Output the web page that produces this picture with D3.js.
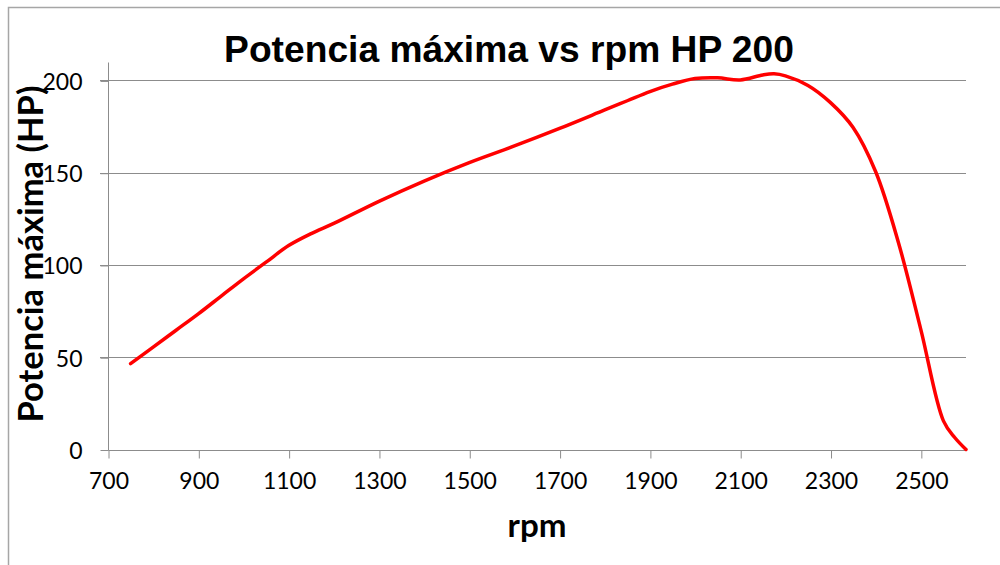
<!DOCTYPE html>
<html>
<head>
<meta charset="utf-8">
<script src="https://cdn.jsdelivr.net/npm/d3@7"></script>
<style>
  html, body { margin: 0; padding: 0; background: #fff; }
  svg { display: block; }
</style>
</head>
<body>
<script>
// ---- data ----
const rpm = [750, 800, 850, 900, 950, 1000, 1050, 1100, 1150, 1200, 1300, 1400, 1500, 1600, 1700, 1800, 1850, 1900, 1950, 2000, 2050, 2100, 2150, 2175, 2200, 2250, 2300, 2350, 2400, 2450, 2500, 2550, 2575, 2600];
const hp  = [46.5, 55.5, 64.5, 73.5, 83, 92.5, 101.5, 110.5, 117, 122.5, 134.5, 145.5, 155.5, 164.5, 174, 184, 189, 194, 198, 201, 201.4, 200.3, 203, 203.6, 202.5, 197.3, 188, 174.5, 150.5, 112.5, 65, 15.5, 6.5, 0];
const xTicks = [700, 900, 1100, 1300, 1500, 1700, 1900, 2100, 2300, 2500];
const yTicks = [0, 50, 100, 150, 200];
const titleText = "Potencia máxima vs rpm HP 200";
const xTitle = "rpm";
const yTitle = "Potencia máxima (HP)";

const W = 1000, H = 565;
const svg = d3.select("body").append("svg").attr("width", W).attr("height", H);

// chart frame (left + top edge visible)
svg.append("path")
  .attr("d", `M8.5,${H} V7.5 H${W}`)
  .attr("fill", "none").attr("stroke", "#a6a6a6").attr("stroke-width", 1.5);

const x = d3.scaleLinear().domain([700, 2600]).range([108, 966]);
const y = d3.scaleLinear().domain([0, 210]).range([449.5, 62]);

const gridColor = "#8c8c8c";

// gridlines
svg.append("g").selectAll("line").data(yTicks.filter(d => d > 0)).join("line")
  .attr("x1", 100).attr("x2", x(2600))
  .attr("y1", d => Math.round(y(d)) + 0.5).attr("y2", d => Math.round(y(d)) + 0.5)
  .attr("stroke", gridColor).attr("stroke-width", 1);

// y axis
const yAxis = svg.append("g").attr("transform", "translate(108.5,0.5)")
  .call(d3.axisLeft(y).tickValues(yTicks).tickSize(8).tickPadding(18).tickFormat(d3.format("d")));
yAxis.select(".domain").attr("d", `M0,${Math.round(y(210))}V${Math.round(y(0))}`);

// x axis
const xAxis = svg.append("g").attr("transform", `translate(0.5,${Math.round(y(0)) + 0.5})`)
  .call(d3.axisBottom(x).tickValues(xTicks).tickSize(8).tickPadding(14).tickFormat(d3.format("d")));
xAxis.select(".domain").attr("d", `M${x(700)},0H${x(2600)}`);

svg.selectAll(".domain, .tick line").attr("stroke", gridColor).attr("stroke-width", 1);
svg.selectAll(".tick text")
  .attr("font-family", "Lato, 'Open Sans', sans-serif")
  .attr("font-size", 23).attr("fill", "#000");
yAxis.selectAll(".tick text").attr("dy", "0.36em");
xAxis.selectAll(".tick text").attr("dy", "0.72em");

// curve
const pts = rpm.map((r, i) => [r, hp[i]]);
svg.append("path")
  .datum(pts)
  .attr("fill", "none")
  .attr("stroke", "#ff0000")
  .attr("stroke-width", 3.5)
  .attr("stroke-linejoin", "round")
  .attr("stroke-linecap", "round")
  .attr("d", d3.line().x(d => x(d[0])).y(d => y(d[1])).curve(d3.curveCatmullRom.alpha(0.5)));

// helper: fit a text element to a target width
function fit(sel, target) {
  const len = sel.node().getComputedTextLength();
  const fs = parseFloat(sel.attr("font-size"));
  sel.attr("font-size", (fs * target / len).toFixed(2));
}

// title
const t = svg.append("text")
  .attr("x", 509).attr("y", 62)
  .attr("text-anchor", "middle")
  .attr("font-family", "'Liberation Sans', Arial, sans-serif")
  .attr("font-weight", "bold").attr("font-size", 36)
  .attr("fill", "#000").text(titleText);
fit(t, 570);

// x title
const xt = svg.append("text")
  .attr("x", 537).attr("y", 537)
  .attr("text-anchor", "middle")
  .attr("font-family", "Lato, 'Open Sans', sans-serif")
  .attr("font-weight", "bold").attr("font-size", 34)
  .attr("fill", "#000").text(xTitle);
fit(xt, 59);

// y title
const yt = svg.append("text")
  .attr("transform", "translate(43,254) rotate(-90)")
  .attr("text-anchor", "middle")
  .attr("font-family", "Lato, 'Open Sans', sans-serif")
  .attr("font-weight", "bold").attr("font-size", 34)
  .attr("fill", "#000").text(yTitle);
fit(yt, 337);
</script>
</body>
</html>
